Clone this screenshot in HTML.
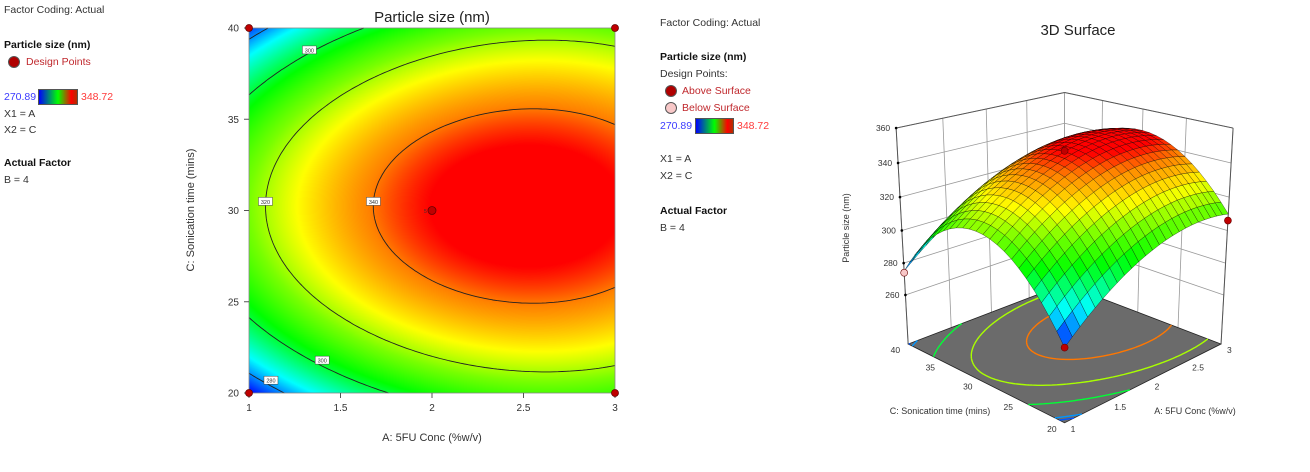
<!DOCTYPE html>
<html><head><meta charset="utf-8">
<style>
body{margin:0;background:#fff;width:1310px;height:472px;overflow:hidden;position:relative;font-family:"Liberation Sans",sans-serif;}
.t{position:absolute;font-size:10.5px;color:#333;white-space:nowrap;line-height:12px}
.b{font-weight:bold;color:#111}
.r{color:#c0282d}
.cb{position:absolute;height:14px;border:1px solid #555;background:linear-gradient(to right,#0000ff,#00ff00 50%,#ff0000 85%,#b03000)}
.dot{position:absolute;width:10px;height:10px;border-radius:50%;border:1px solid #555}
#heat{position:absolute;left:249px;top:28px}
svg{position:absolute;left:0;top:0}
</style></head><body>
<div class="t" style="left:4px;top:4px">Factor Coding: Actual</div>
<div class="t b" style="left:4px;top:39px">Particle size (nm)</div>
<div class="dot" style="left:8px;top:56px;background:#b00000"></div>
<div class="t r" style="left:26px;top:56px">Design Points</div>
<div class="t" style="left:4px;top:91px;color:#3a3aff">270.89</div>
<div class="cb" style="left:38px;top:89px;width:38px"></div>
<div class="t" style="left:81px;top:91px;color:#ff3a3a">348.72</div>
<div class="t" style="left:4px;top:108px">X1 = A</div>
<div class="t" style="left:4px;top:124px">X2 = C</div>
<div class="t b" style="left:4px;top:157px">Actual Factor</div>
<div class="t" style="left:4px;top:174px">B = 4</div>

<div class="t" style="left:660px;top:17px">Factor Coding: Actual</div>
<div class="t b" style="left:660px;top:51px">Particle size (nm)</div>
<div class="t" style="left:660px;top:68px">Design Points:</div>
<div class="dot" style="left:665px;top:85px;background:#b00000"></div>
<div class="t r" style="left:682px;top:85px">Above Surface</div>
<div class="dot" style="left:665px;top:102px;background:#f8c8c8"></div>
<div class="t r" style="left:682px;top:102px">Below Surface</div>
<div class="t" style="left:660px;top:120px;color:#3a3aff">270.89</div>
<div class="cb" style="left:695px;top:118px;width:37px"></div>
<div class="t" style="left:737px;top:120px;color:#ff3a3a">348.72</div>
<div class="t" style="left:660px;top:153px">X1 = A</div>
<div class="t" style="left:660px;top:170px">X2 = C</div>
<div class="t b" style="left:660px;top:205px">Actual Factor</div>
<div class="t" style="left:660px;top:222px">B = 4</div>

<canvas id="heat" width="366" height="365"></canvas>
<svg id="sv" width="1310" height="472"></svg>
<script>
// model coefficients (coded A'=A-2, C'=(C-30)/10): b0,bA,bC,bAA,bCC,bAC,bACC
const coefs=[346.5,15.5,1.88,-15,-39.15,-0.12,3.85];
const colorRange=[270.89,348.72];
const xTicks=[1,1.5,2,2.5,3];
const yTicks=[20,25,30,35,40];
const zTicks=[260,280,300,320,340,360];
const contourLevels=[280,300,320,340];
const labelA=[1.12,1.33,1.40,1.09,1.68];
const labelC=[20.7,38.8,21.8,30.5,30.5];
const labelV=[280,300,300,320,340];
const ptA=[1,1,3,3,2];
const ptC=[20,40,20,40,30];
const ptZ=[271,274,306,316,347];
const ptAbove=[1,0,1,1,1];

const NS="http://www.w3.org/2000/svg";
const sv=document.getElementById('sv');
function mk(tag,at,parent){const e=document.createElementNS(NS,tag);for(const k in at)e.setAttribute(k,at[k]);(parent||sv).appendChild(e);return e;}
function f(A,C){const a=A-2,c=(C-30)/10,k=coefs;return k[0]+k[1]*a+k[2]*c+k[3]*a*a+k[4]*c*c+k[5]*a*c+k[6]*a*c*c;}
const stops=[[0,0,0,255],[0.2,0,255,255],[0.42,0,255,0],[0.58,120,255,0],[0.72,255,255,0],[0.88,255,130,0],[0.97,255,0,0],[1,255,0,0]];
function cmap(v){let t=(v-colorRange[0])/(colorRange[1]-colorRange[0]);t=Math.max(0,Math.min(1,t));
 for(let i=1;i<stops.length;i++){if(t<=stops[i][0]){const s=stops[i-1],e=stops[i],u=(t-s[0])/(e[0]-s[0]);return [0,1,2].map(j=>Math.round(s[j+1]+(e[j+1]-s[j+1])*u));}}return [255,0,0];}
function rgb(c){return 'rgb('+c.join(',')+')';}

// ---------- 2D contour ----------
const X0=249,X1=615,Y0=28,Y1=393;
const xs=A=>X0+(A-1)/2*(X1-X0), ys=C=>Y1-(C-20)/20*(Y1-Y0);
const cv=document.getElementById('heat'),ctx=cv.getContext('2d');
const W=cv.width,H=cv.height,img=ctx.createImageData(W,H);
for(let j=0;j<H;j++)for(let i=0;i<W;i++){const A=1+2*i/(W-1),C=40-20*j/(H-1);const c=cmap(f(A,C));const p=(j*W+i)*4;img.data[p]=c[0];img.data[p+1]=c[1];img.data[p+2]=c[2];img.data[p+3]=255;}
ctx.putImageData(img,0,0);

function contourSegs(level,N){const segs=[];
 for(let i=0;i<N;i++)for(let j=0;j<N;j++){
  const a0=1+2*i/N,a1=1+2*(i+1)/N,c0=20+20*j/N,c1=20+20*(j+1)/N;
  const P=[[a0,c0],[a1,c0],[a1,c1],[a0,c1]];const V=P.map(p=>f(p[0],p[1])-level);
  const pts=[];for(let k=0;k<4;k++){const p=P[k],q=P[(k+1)%4],v=V[k],w=V[(k+1)%4];
   if((v<0)!==(w<0)){const t=v/(v-w);pts.push([p[0]+(q[0]-p[0])*t,p[1]+(q[1]-p[1])*t]);}}
  if(pts.length===2)segs.push(pts);else if(pts.length===4){segs.push([pts[0],pts[1]]);segs.push([pts[2],pts[3]]);}
 }return segs;}

const g2=mk('g',{});
contourLevels.forEach(L=>{let d='';contourSegs(L,90).forEach(s=>{d+='M'+xs(s[0][0]).toFixed(1)+' '+ys(s[0][1]).toFixed(1)+'L'+xs(s[1][0]).toFixed(1)+' '+ys(s[1][1]).toFixed(1);});
 const p=mk('path',{d:d,stroke:'#222',fill:'none','stroke-width':0.9},g2);
 
 });
labelV.forEach((v,i)=>{const x=xs(labelA[i]),y=ys(labelC[i]);
 const r=mk('rect',{x:x-7,y:y-4,width:14,height:8,fill:'#fff',stroke:'#444','stroke-width':0.5},g2);
 
 
 const t=mk('text',{x:x,y:y+2.5,'font-size':5.5,'text-anchor':'middle',fill:'#333'},g2);t.textContent=v;
 
 });
mk('rect',{x:X0,y:Y0,width:X1-X0,height:Y1-Y0,fill:'none',stroke:'#888','stroke-width':0.8},g2);
xTicks.forEach(v=>{mk('line',{x1:xs(v),x2:xs(v),y1:Y1,y2:Y1+5,stroke:'#555'},g2);
 const t=mk('text',{x:xs(v),y:Y1+18,'font-size':10,'text-anchor':'middle',fill:'#333'},g2);t.textContent=v;
 
 });
yTicks.forEach(v=>{mk('line',{x1:X0-5,x2:X0,y1:ys(v),y2:ys(v),stroke:'#555'},g2);
 const t=mk('text',{x:X0-10,y:ys(v)+3.5,'font-size':10,'text-anchor':'end',fill:'#333'},g2);t.textContent=v;
 
 });
let t2=mk('text',{x:432,y:22,'font-size':15,'text-anchor':'middle',fill:'#222'},g2);t2.textContent='Particle size (nm)';

t2=mk('text',{x:432,y:441,'font-size':11,'text-anchor':'middle',fill:'#333'},g2);t2.textContent='A: 5FU Conc (%w/v)';

t2=mk('text',{x:0,y:0,'font-size':11,'text-anchor':'middle',fill:'#333',transform:'translate(194,210) rotate(-90)'},g2);t2.textContent='C: Sonication time (mins)';

ptA.forEach((a,i)=>{const c=mk('circle',{cx:xs(a),cy:ys(ptC[i]),r:i==4?4:3.5,fill:'#c00000',stroke:'#600','stroke-width':0.8},g2);
 
 });
t2=mk('text',{x:424,y:213,'font-size':5,fill:'#333'},g2);t2.textContent='5';

// ---------- 3D ----------
const e3=20*Math.PI/180,sE=Math.sin(e3),cE=Math.cos(e3),Ds=4.62,F=1060,CX=1064.6,CY=240,ZMIN=228.4,ZMAX=360;
function proj(A,C,z){const x=(A-1)/2-0.5,y=(C-20)/20-0.5,w=(z-ZMIN)/(ZMAX-ZMIN)-0.5;
 const h=(x-y)/Math.SQRT2,d=(x+y)/Math.SQRT2;const Zc=Ds+d*cE-w*sE,Yu=d*sE+w*cE;return [CX+F*h/Zc,CY-F*Yu/Zc,Zc];}
const g3=mk('g',{});
function poly(pts,at){return mk('polygon',Object.assign({points:pts.map(p=>p[0].toFixed(1)+','+p[1].toFixed(1)).join(' ')},at),g3);}
function ln(a,b,at){return mk('line',Object.assign({x1:a[0],y1:a[1],x2:b[0],y2:b[1]},at),g3);}
let w1=poly([proj(1,40,ZMIN),proj(3,40,ZMIN),proj(3,40,ZMAX),proj(1,40,ZMAX)],{fill:'#fff',stroke:'none'});

let w2=poly([proj(3,40,ZMIN),proj(3,20,ZMIN),proj(3,20,ZMAX),proj(3,40,ZMAX)],{fill:'#fff',stroke:'none'});

const gs={stroke:'#999','stroke-width':0.8};
zTicks.forEach(z=>{ln(proj(1,40,z),proj(3,40,z),gs);ln(proj(3,40,z),proj(3,20,z),gs);});
xTicks.forEach(a=>ln(proj(a,40,ZMIN),proj(a,40,ZMAX),gs));
yTicks.forEach(c=>ln(proj(3,c,ZMIN),proj(3,c,ZMAX),gs));
ln(proj(1,40,ZMAX),proj(3,40,ZMAX),{stroke:'#555'});ln(proj(3,40,ZMAX),proj(3,20,ZMAX),{stroke:'#555'});
ln(proj(1,40,ZMIN),proj(1,40,ZMAX),{stroke:'#555'});ln(proj(3,20,ZMIN),proj(3,20,ZMAX),{stroke:'#555'});
let fl=poly([proj(1,20,ZMIN),proj(3,20,ZMIN),proj(3,40,ZMIN),proj(1,40,ZMIN)],{fill:'#6b6b6b',stroke:'#222','stroke-width':0.8});

[276].concat(contourLevels).forEach(L=>{let d='';contourSegs(L,60).forEach(s=>{const p=proj(s[0][0],s[0][1],ZMIN),q=proj(s[1][0],s[1][1],ZMIN);d+='M'+p[0].toFixed(1)+' '+p[1].toFixed(1)+'L'+q[0].toFixed(1)+' '+q[1].toFixed(1);});
 const p=mk('path',{d:d,stroke:rgb(cmap(L)),fill:'none','stroke-width':1.4},g3);
 
 });
zTicks.forEach(z=>{const p=proj(1,40,z);mk('circle',{cx:p[0],cy:p[1],r:1.3,fill:'#000'},g3);
 const t=mk('text',{x:p[0]-6,y:p[1]+3,'font-size':8.5,'text-anchor':'end',fill:'#333'},g3);t.textContent=z;
 
 });
yTicks.forEach(c=>{const p=proj(1,c,ZMIN);
 const t=mk('text',{x:p[0]-8,y:p[1]+9,'font-size':8.5,'text-anchor':'end',fill:'#333'},g3);t.textContent=c;
 
 });
xTicks.forEach(a=>{const p=proj(a,20,ZMIN);
 const t=mk('text',{x:p[0]+6,y:p[1]+9,'font-size':8.5,'text-anchor':'start',fill:'#333'},g3);t.textContent=a;
 
 });
t2=mk('text',{x:940,y:414,'font-size':9,'text-anchor':'middle',fill:'#333'},g3);t2.textContent='C: Sonication time (mins)';

t2=mk('text',{x:1195,y:414,'font-size':9,'text-anchor':'middle',fill:'#333'},g3);t2.textContent='A: 5FU Conc (%w/v)';

t2=mk('text',{x:0,y:0,'font-size':9,'text-anchor':'middle',fill:'#333',transform:'translate(849,228) rotate(-90)'},g3);t2.textContent='Particle size (nm)';

t2=mk('text',{x:1078,y:35,'font-size':15,'text-anchor':'middle',fill:'#222'},g3);t2.textContent='3D Surface';

const NQ=24,quads=[];
for(let i=0;i<NQ;i++)for(let j=0;j<NQ;j++){const a0=1+2*i/NQ,a1=1+2*(i+1)/NQ,c0=20+20*j/NQ,c1=20+20*(j+1)/NQ;
 const P=[[a0,c0],[a1,c0],[a1,c1],[a0,c1]].map(p=>proj(p[0],p[1],f(p[0],p[1])));
 const depth=(P[0][2]+P[1][2]+P[2][2]+P[3][2])/4;quads.push({P:P,depth:depth,v:f((a0+a1)/2,(c0+c1)/2)});}
quads.sort((a,b)=>b.depth-a.depth);
quads.forEach(q=>{const p=poly(q.P,{fill:rgb(cmap(q.v)),stroke:'rgba(0,0,0,0.6)','stroke-width':0.5,'stroke-linejoin':'round'});
 
 });
ptA.forEach((a,i)=>{if(a===3&&ptC[i]===40)return;const p=proj(a,ptC[i],ptZ[i]);
 const c=mk('circle',{cx:p[0],cy:p[1],r:3.5,fill:ptAbove[i]?'#c00000':'#f8c8c8',stroke:'#600','stroke-width':0.6},g3);
 
 });
</script>
</body></html>
